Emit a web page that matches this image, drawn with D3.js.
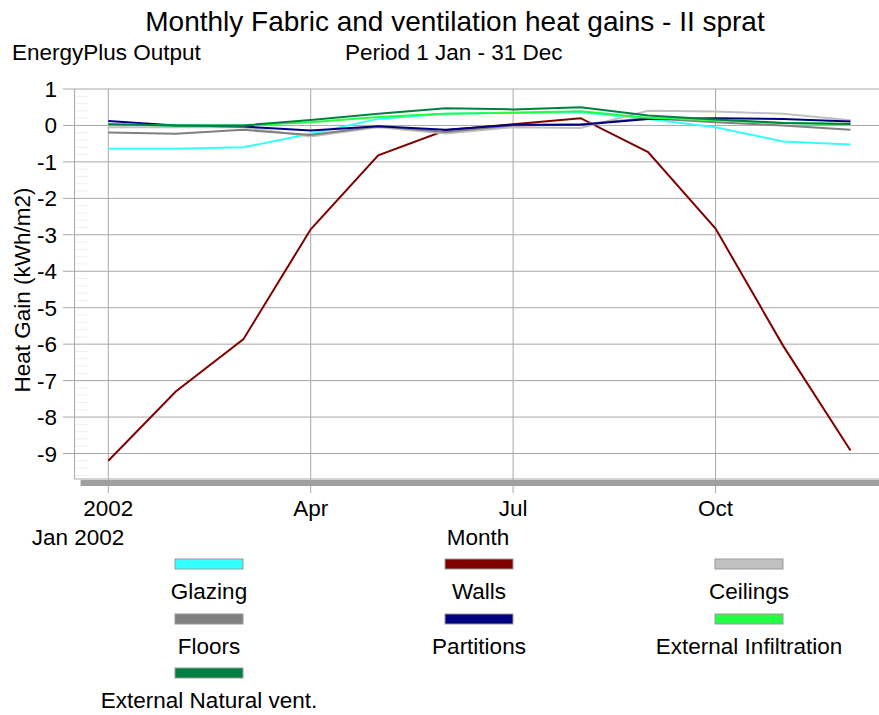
<!DOCTYPE html>
<html>
<head>
<meta charset="utf-8">
<script src="https://cdn.jsdelivr.net/npm/d3@7"></script>
<style>
  body { margin: 0; background: #fff; }
  svg { font-family: "Liberation Sans", Arial, sans-serif; }
</style>
</head>
<body>
<div id="chart"></div>
<script>
// months (index 0..11 = Jan..Dec 2002)
const months = ["Jan", "Feb", "Mar", "Apr", "May", "Jun", "Jul", "Aug", "Sep", "Oct", "Nov", "Dec"];
const xTickIdx = [0, 3, 6, 9];
const xTickLabels = ["2002", "Apr", "Jul", "Oct"];
const yTicks = [1, 0, -1, -2, -3, -4, -5, -6, -7, -8, -9];

const seriesNames = ["Glazing", "Walls", "Ceilings", "Floors", "Partitions", "External Infiltration", "External Natural vent."];
const seriesColors = ["#33ffff", "#800000", "#c0c0c0", "#808080", "#000080", "#22ff44", "#008040"];

const glazing    = [-0.64, -0.64, -0.60, -0.23, 0.18, 0.32, 0.35, 0.36, 0.18, -0.05, -0.44, -0.52];
const walls      = [-9.2, -7.3, -5.87, -2.85, -0.82, -0.13, 0.03, 0.2, -0.73, -2.83, -6.04, -8.92];
const ceilings   = [-0.05, -0.05, -0.05, -0.3, -0.05, -0.22, -0.05, -0.07, 0.4, 0.38, 0.32, 0.14];
const floors     = [-0.19, -0.23, -0.12, -0.26, -0.02, -0.18, 0.0, 0.03, 0.2, 0.09, 0.0, -0.12];
const partitions = [0.12, 0.0, -0.03, -0.14, -0.02, -0.12, 0.02, 0.02, 0.18, 0.2, 0.18, 0.11];
const infiltr    = [0.03, 0.0, 0.0, 0.09, 0.23, 0.32, 0.35, 0.39, 0.21, 0.14, 0.07, 0.04];
const natVent    = [0.03, 0.0, 0.0, 0.15, 0.32, 0.47, 0.44, 0.5, 0.27, 0.16, 0.07, 0.04];
const seriesValues = [glazing, walls, ceilings, floors, partitions, infiltr, natVent];

const width = 879, height = 715;

const svg = d3.select("#chart")
  .append("svg")
  .attr("width", width)
  .attr("height", height);

const x = d3.scaleLinear().domain([0, 11]).range([108.3, 850.5]);
const y = d3.scaleLinear().domain([1, -9]).range([89, 453.5]);

const plotLeft = x(-0.5);
const plotTop = y(1);
const plotBottom = 479;

// titles
svg.append("text")
  .attr("x", 455).attr("y", 31)
  .attr("text-anchor", "middle")
  .style("font-size", "28px")
  .text("Monthly Fabric and ventilation heat gains - II sprat");

svg.append("text")
  .attr("x", 12).attr("y", 60)
  .style("font-size", "22.5px")
  .text("EnergyPlus Output");

svg.append("text")
  .attr("x", 345).attr("y", 60)
  .style("font-size", "22.5px")
  .text("Period 1 Jan - 31 Dec");

// minor ticks
const minor = d3.range(1, -9.71, -0.2).filter(v => Math.abs(v - Math.round(v)) > 0.01);
svg.append("g")
  .selectAll("line")
  .data(minor)
  .enter()
  .append("line")
  .attr("x1", plotLeft).attr("x2", plotLeft + 13)
  .attr("y1", d => y(d)).attr("y2", d => y(d))
  .style("stroke", "#efefef")
  .style("stroke-width", 1);

// horizontal grid
svg.append("g")
  .selectAll("line")
  .data(yTicks)
  .enter()
  .append("line")
  .attr("x1", 63).attr("x2", width)
  .attr("y1", d => y(d)).attr("y2", d => y(d))
  .style("stroke", "#a8a8a8")
  .style("stroke-width", 1);

// vertical grid
svg.append("g")
  .selectAll("line")
  .data(xTickIdx)
  .enter()
  .append("line")
  .attr("x1", d => x(d)).attr("x2", d => x(d))
  .attr("y1", plotTop).attr("y2", 493)
  .style("stroke", "#a8a8a8")
  .style("stroke-width", 1);

// frame
svg.append("line")
  .attr("x1", plotLeft).attr("x2", plotLeft)
  .attr("y1", plotTop).attr("y2", plotBottom)
  .style("stroke", "#a8a8a8");
svg.append("line")
  .attr("x1", plotLeft).attr("x2", width)
  .attr("y1", plotBottom).attr("y2", plotBottom)
  .style("stroke", "#a8a8a8");
svg.append("rect")
  .attr("x", plotLeft + 6).attr("y", plotBottom + 1)
  .attr("width", width - plotLeft - 6).attr("height", 6)
  .style("fill", "#a0a0a0");

// y tick labels
svg.append("g")
  .selectAll("text")
  .data(yTicks)
  .enter()
  .append("text")
  .attr("x", 57).attr("y", d => y(d) + 8)
  .attr("text-anchor", "end")
  .style("font-size", "22.5px")
  .text(d => d);

// x tick labels
svg.append("g")
  .selectAll("text")
  .data(xTickIdx)
  .enter()
  .append("text")
  .attr("x", d => x(d)).attr("y", 516)
  .attr("text-anchor", "middle")
  .style("font-size", "22.5px")
  .text((d, i) => xTickLabels[i]);

svg.append("text")
  .attr("x", 78).attr("y", 545)
  .attr("text-anchor", "middle")
  .style("font-size", "22.5px")
  .text("Jan 2002");

svg.append("text")
  .attr("x", 478).attr("y", 545)
  .attr("text-anchor", "middle")
  .style("font-size", "22.5px")
  .text("Month");

svg.append("text")
  .attr("transform", "translate(30, 290) rotate(-90)")
  .attr("text-anchor", "middle")
  .style("font-size", "22.5px")
  .text("Heat Gain (kWh/m2)");

// lines
const line = d3.line()
  .x((d, i) => x(i))
  .y(d => y(d));

svg.append("g")
  .selectAll("path")
  .data(seriesValues)
  .enter()
  .append("path")
  .attr("d", line)
  .style("fill", "none")
  .style("stroke", (d, i) => seriesColors[i])
  .style("stroke-width", 2);

// legend
const legendCols = [209, 479, 749];
const legendRows = [564, 619, 673];
const legend = svg.append("g")
  .selectAll("g")
  .data(seriesNames)
  .enter()
  .append("g")
  .attr("transform", (d, i) => `translate(${legendCols[i % 3]}, ${legendRows[Math.floor(i / 3)]})`);

legend.append("rect")
  .attr("x", -34).attr("y", -5)
  .attr("width", 68).attr("height", 10)
  .style("fill", (d, i) => seriesColors[i])
  .style("stroke", "#999")
  .style("stroke-width", 1);

legend.append("text")
  .attr("x", 0).attr("y", 35)
  .attr("text-anchor", "middle")
  .style("font-size", "22.5px")
  .text(d => d);
</script>
</body>
</html>
